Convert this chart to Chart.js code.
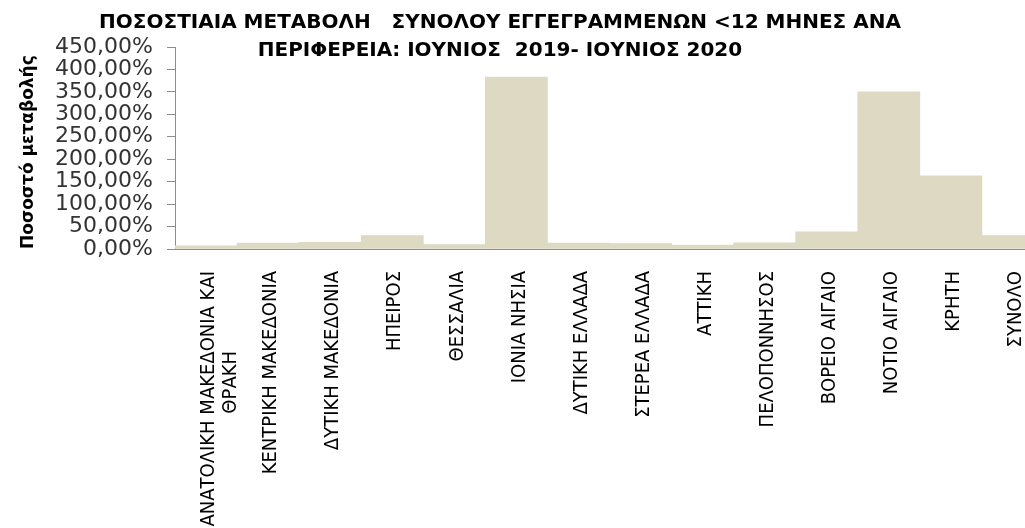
<!DOCTYPE html>
<html>
<head>
<meta charset="utf-8">
<script src="https://cdn.jsdelivr.net/npm/chart.js@4/dist/chart.umd.min.js"></script>
<style>
  html, body { margin: 0; padding: 0; background: #fff; overflow: hidden; }
  #wrap { width: 1025px; height: 528px; overflow: hidden; position: relative; }
  #box { width: 1044px; height: 528px; position: absolute; left: 0; top: 0; }
</style>
</head>
<body>
<div id="wrap"><div id="box"><canvas id="chart"></canvas></div></div>
<script>
// data
const regions = [
  ['ΑΝΑΤΟΛΙΚΗ ΜΑΚΕΔΟΝΙΑ ΚΑΙ', 'ΘΡΑΚΗ'],
  'ΚΕΝΤΡΙΚΗ ΜΑΚΕΔΟΝΙΑ',
  'ΔΥΤΙΚΗ ΜΑΚΕΔΟΝΙΑ',
  'ΗΠΕΙΡΟΣ',
  'ΘΕΣΣΑΛΙΑ',
  'ΙΟΝΙΑ ΝΗΣΙΑ',
  'ΔΥΤΙΚΗ ΕΛΛΑΔΑ',
  'ΣΤΕΡΕΑ ΕΛΛΑΔΑ',
  'ΑΤΤΙΚΗ',
  'ΠΕΛΟΠΟΝΝΗΣΟΣ',
  'ΒΟΡΕΙΟ ΑΙΓΑΙΟ',
  'ΝΟΤΙΟ ΑΙΓΑΙΟ',
  'ΚΡΗΤΗ',
  'ΣΥΝΟΛΟ'
];
const changePct = [7, 13, 15, 30, 10, 383, 13, 12, 9, 14, 38, 350, 163, 30];
const yTicks = [0, 50, 100, 150, 200, 250, 300, 350, 400, 450];
const titleLines = [
  'ΠΟΣΟΣΤΙΑΙΑ ΜΕΤΑΒΟΛΗ   ΣΥΝΟΛΟΥ ΕΓΓΕΓΡΑΜΜΕΝΩΝ <12 ΜΗΝΕΣ ΑΝΑ',
  'ΠΕΡΙΦΕΡΕΙΑ: ΙΟΥΝΙΟΣ  2019- ΙΟΥΝΙΟΣ 2020'
];
const yTitle = 'Ποσοστό μεταβολής';

const fmtPct = v => v.toFixed(2).replace('.', ',') + '%';

// multi-line category labels: pad the short lines so they sit centred
function centreLines(label) {
  if (!Array.isArray(label)) return label;
  const longest = Math.max(...label.map(s => s.length));
  return label.map(s => s + ' '.repeat(Math.round((longest - s.length) * 0.8)));
}

// two-line heading, centred a bit left of the canvas like the original
const headingPlugin = {
  id: 'heading',
  afterDraw(chart) {
    const ctx = chart.ctx;
    ctx.save();
    ctx.font = 'bold 20px "DejaVu Sans", sans-serif';
    ctx.fillStyle = '#000';
    ctx.textAlign = 'center';
    ctx.textBaseline = 'middle';
    titleLines.forEach((line, i) => ctx.fillText(line, 500, 23 + i * 28));
    ctx.restore();
  }
};

new Chart(document.getElementById('chart'), {
  type: 'bar',
  data: {
    labels: regions,
    datasets: [{
      data: changePct,
      backgroundColor: '#ddd9c3',
      borderWidth: 0,
      categoryPercentage: 1,
      barPercentage: 1
    }]
  },
  plugins: [headingPlugin],
  options: {
    responsive: true,
    maintainAspectRatio: false,
    animation: false,
    layout: { padding: { top: 47, right: 0, left: 0, bottom: 0 } },
    plugins: {
      legend: { display: false },
      tooltip: { enabled: false }
    },
    scales: {
      x: {
        grid: { display: false, drawTicks: false },
        border: { display: true, color: '#8c8c8c', width: 1 },
        ticks: {
          autoSkip: false,
          minRotation: 90,
          maxRotation: 90,
          padding: 22,
          labelOffset: 3,
          color: '#000',
          font: { family: '"DejaVu Sans Condensed", sans-serif', size: 20, lineHeight: 1.1 },
          callback(value) { return centreLines(this.getLabelForValue(value)); }
        },
        afterFit(scale) {
          scale.height = 279;
          // plot runs off the right edge in the original, no extra side padding
          scale.paddingLeft = 0;
          scale.paddingRight = 0;
        }
      },
      y: {
        min: 0,
        max: 450,
        afterBuildTicks(scale) { scale.ticks = yTicks.map(v => ({ value: v })); },
        grid: { drawOnChartArea: false, drawTicks: true, tickLength: 8, color: '#8c8c8c' },
        border: { color: '#8c8c8c' },
        ticks: {
          autoSkip: false,
          padding: 14,
          color: '#333',
          font: { family: '"DejaVu Sans", sans-serif', size: 22 },
          callback: v => fmtPct(v)
        },
        title: {
          display: true,
          text: yTitle,
          align: 'start',
          color: '#000',
          padding: { top: 18 },
          font: { family: '"DejaVu Sans", sans-serif', size: 17, weight: 'bold' }
        },
        afterFit(scale) { scale.width = 175; }
      }
    }
  }
});
</script>
</body>
</html>
